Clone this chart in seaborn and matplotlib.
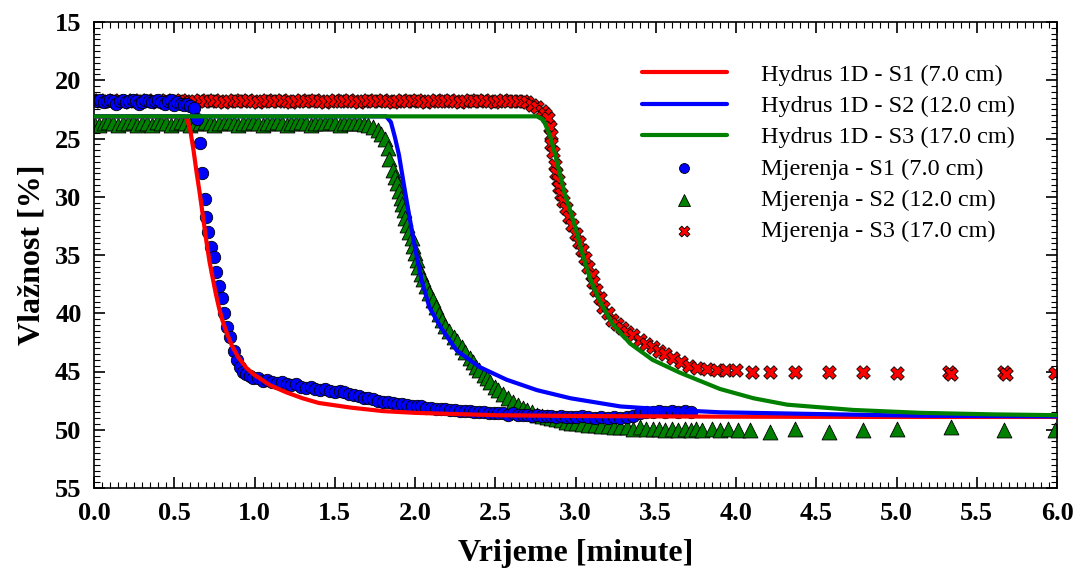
import matplotlib
matplotlib.use("Agg")
import matplotlib.pyplot as plt
from matplotlib.ticker import MultipleLocator, FormatStrFormatter
import seaborn as sns
import pandas as pd

# ---------------- data ----------------
# Hydrus 1D simulated curves
hyd_s1_t = [0.00, 0.56, 0.58, 0.60, 0.62, 0.64, 0.66, 0.68, 0.70, 0.72, 0.74, 0.76, 0.78, 0.80,
            0.83, 0.86, 0.90, 0.95, 1.00, 1.10, 1.20, 1.30, 1.40, 1.60, 1.80, 2.00, 2.50, 3.00,
            4.00, 5.00, 6.00]
hyd_s1_v = [23.1, 23.1, 23.3, 24.3, 26.0, 28.0, 29.8, 31.8, 33.8, 35.6, 37.0, 38.4, 39.6, 40.6,
            41.8, 42.8, 43.8, 44.7, 45.3, 46.2, 46.8, 47.3, 47.7, 48.1, 48.4, 48.55, 48.75, 48.82,
            48.88, 48.9, 48.9]

hyd_s2_t = [0.00, 1.82, 1.85, 1.875, 1.90, 1.93, 1.96, 2.00, 2.04, 2.09, 2.16, 2.26, 2.40, 2.57,
            2.76, 2.97, 3.28, 3.60, 3.90, 4.50, 5.15, 6.00]
hyd_s2_v = [23.1, 23.1, 23.6, 24.9, 26.4, 28.9, 31.3, 34.4, 37.1, 39.5, 41.2, 43.2, 44.6, 45.7,
            46.6, 47.3, 48.0, 48.3, 48.5, 48.65, 48.8, 48.85]

hyd_s3_t = [0.00, 2.76, 2.80, 2.84, 2.87, 2.90, 2.93, 2.97, 3.00, 3.04, 3.09, 3.15, 3.23, 3.34,
            3.48, 3.65, 3.90, 4.11, 4.32, 4.73, 5.15, 5.60, 6.00]
hyd_s3_v = [23.1, 23.1, 23.4, 24.7, 26.2, 27.9, 29.6, 31.3, 32.7, 34.7, 37.0, 38.9, 40.9, 42.6,
            44.0, 45.1, 46.5, 47.3, 47.85, 48.3, 48.55, 48.68, 48.75]

# Measurements S1 (7.0 cm)
mj_s1_t = [0.00, 0.02, 0.04, 0.06, 0.08, 0.10, 0.12, 0.14, 0.16, 0.18, 0.20, 0.22, 0.24, 0.26,
           0.28, 0.30, 0.32, 0.34, 0.36, 0.38, 0.40, 0.42, 0.44, 0.46, 0.48, 0.50, 0.52, 0.54,
           0.56, 0.58, 0.60, 0.62, 0.64, 0.66, 0.675, 0.69, 0.70, 0.71, 0.73, 0.75, 0.76, 0.78,
           0.80, 0.81, 0.83, 0.85, 0.87, 0.89, 0.91, 0.93, 0.95, 0.97, 0.99,
           1.02, 1.05, 1.08, 1.11, 1.14, 1.17, 1.20, 1.23, 1.26, 1.29, 1.32, 1.35, 1.38, 1.41,
           1.44, 1.47, 1.50, 1.53, 1.56, 1.59, 1.62, 1.65, 1.68, 1.71, 1.74, 1.77, 1.80, 1.83,
           1.86, 1.89, 1.92, 1.95, 1.98, 2.01, 2.04, 2.07, 2.10, 2.13, 2.16, 2.19, 2.22, 2.25,
           2.28, 2.31, 2.34, 2.37, 2.40, 2.43, 2.46, 2.49, 2.52, 2.55, 2.58, 2.61, 2.64, 2.67,
           2.70, 2.73, 2.76, 2.79, 2.82, 2.85, 2.88, 2.91, 2.94, 2.97, 3.00, 3.04, 3.08, 3.12,
           3.16, 3.20, 3.24, 3.28, 3.32, 3.36, 3.40, 3.44, 3.48, 3.52, 3.56, 3.60, 3.64, 3.68,
           3.72]
mj_s1_v = [21.7, 21.8, 21.7, 21.9, 21.8, 21.7, 21.8, 22.0, 21.8, 21.7, 21.9, 21.8, 21.7, 21.8,
           22.0, 21.9, 21.7, 21.8, 21.9, 21.8, 21.7, 21.9, 22.0, 21.8, 21.7, 22.1, 21.9, 22.0,
           22.1, 22.0, 22.2, 22.4, 23.3, 25.4, 28.0, 30.2, 31.7, 33.0, 34.3, 35.2, 36.5, 37.7,
           38.7, 40.0, 41.2, 42.0, 43.2, 44.0, 44.6, 45.0, 45.2, 45.4, 45.6,
           45.6, 45.8, 45.7, 45.9, 46.0, 45.9, 46.1, 46.2, 46.1, 46.3, 46.4, 46.3, 46.5, 46.6,
           46.5, 46.7, 46.8, 46.7, 46.8, 46.9, 47.0, 47.1, 47.3, 47.3, 47.4, 47.5, 47.6, 47.6,
           47.7, 47.8, 47.8, 47.9, 48.0, 48.0, 48.0, 48.1, 48.1, 48.2, 48.2, 48.2, 48.3, 48.3,
           48.4, 48.4, 48.4, 48.5, 48.5, 48.5, 48.6, 48.6, 48.6, 48.6, 48.7, 48.6, 48.7, 48.7,
           48.7, 48.8, 48.7, 48.8, 48.8, 48.8, 48.9, 48.8, 48.9, 48.9, 48.9, 48.8, 48.9, 49.0,
           48.9, 49.0, 48.9, 49.0, 48.9, 48.8, 48.6, 48.5, 48.5, 48.4, 48.5, 48.4, 48.5, 48.4,
           48.5]

# Measurements S2 (12.0 cm)
mj_s2_t = [0.00, 0.03, 0.06, 0.09, 0.12, 0.15, 0.18, 0.21, 0.24, 0.27, 0.30, 0.33, 0.36, 0.39,
           0.42, 0.45, 0.48, 0.51, 0.54, 0.57, 0.60, 0.63, 0.66, 0.69, 0.72, 0.75, 0.78, 0.81,
           0.84, 0.87, 0.90, 0.93, 0.96, 0.99, 1.02, 1.05, 1.08, 1.11, 1.14, 1.17, 1.20, 1.23,
           1.26, 1.29, 1.32, 1.35, 1.38, 1.41, 1.44, 1.47, 1.50, 1.53, 1.56, 1.59, 1.62, 1.65,
           1.68, 1.71, 1.74, 1.77, 1.79, 1.81, 1.83, 1.84, 1.86, 1.875, 1.89, 1.90, 1.91, 1.92,
           1.93, 1.94, 1.95, 1.965, 1.98, 1.99, 2.00, 2.01, 2.02, 2.035, 2.05, 2.07, 2.09, 2.11,
           2.13, 2.15, 2.17, 2.19, 2.21, 2.24, 2.26, 2.29, 2.31, 2.34, 2.36, 2.38, 2.40, 2.43,
           2.45, 2.47, 2.50, 2.52, 2.55, 2.58, 2.61, 2.64, 2.67, 2.70, 2.73, 2.76, 2.79, 2.82,
           2.85, 2.88, 2.91, 2.94, 2.97, 3.00, 3.04, 3.08, 3.12, 3.16, 3.20, 3.24, 3.28, 3.32,
           3.36, 3.40, 3.44, 3.48, 3.52, 3.56, 3.60, 3.64, 3.68, 3.72, 3.75, 3.79, 3.85, 3.90,
           3.95, 4.01, 4.09, 4.21, 4.37, 4.58, 4.79, 5.00, 5.34, 5.67, 5.99]
mj_s2_v = [23.7, 23.8, 23.7, 23.6, 23.7, 23.8, 23.7, 23.7, 23.6, 23.8, 23.7, 23.7, 23.8, 23.6,
           23.7, 23.7, 23.8, 23.7, 23.6, 23.7, 23.8, 23.7, 23.7, 23.6, 23.7, 23.8, 23.7, 23.7,
           23.6, 23.7, 23.8, 23.7, 23.7, 23.6, 23.7, 23.8, 23.7, 23.7, 23.6, 23.7, 23.8, 23.7,
           23.7, 23.6, 23.7, 23.8, 23.7, 23.7, 23.7, 23.6, 23.7, 23.8, 23.7, 23.7, 23.7, 23.7,
           23.75, 23.8, 24.0, 24.3, 24.6, 25.0, 25.8, 26.8, 27.7, 28.3, 28.8, 29.5, 30.1, 30.6,
           31.1, 31.8, 32.4, 33.0, 33.5, 34.2, 34.8, 35.4, 36.0, 36.6, 37.1, 37.7, 38.3, 38.9,
           39.5, 40.1, 40.6, 41.1, 41.5, 42.0, 42.4, 42.9, 43.3, 43.8, 44.2, 44.6, 44.9, 45.3,
           45.6, 45.9, 46.3, 46.6, 46.9, 47.3, 47.6, 47.9, 48.1, 48.3, 48.5, 48.7, 48.8, 48.9,
           49.0, 49.1, 49.2, 49.3, 49.4, 49.4, 49.5, 49.6, 49.6, 49.7, 49.7, 49.8, 49.8, 49.8,
           49.9, 49.8, 49.9, 49.9, 49.9, 50.0, 49.9, 50.0, 49.9, 50.0, 49.9, 50.0, 49.95, 50.0,
           49.95, 50.0, 50.0, 50.2, 49.9, 50.2, 50.0, 49.95, 49.75, 50.0, 50.0]

# Measurements S3 (17.0 cm)
mj_s3_t = [0.00, 0.03, 0.06, 0.09, 0.12, 0.15, 0.18, 0.21, 0.24, 0.27, 0.30, 0.33, 0.36, 0.39,
           0.42, 0.45, 0.48, 0.51, 0.54, 0.57, 0.60, 0.63, 0.66, 0.69, 0.72, 0.75, 0.78, 0.81,
           0.84, 0.87, 0.90, 0.93, 0.96, 0.99, 1.02, 1.05, 1.08, 1.11, 1.14, 1.17, 1.20, 1.23,
           1.26, 1.29, 1.32, 1.35, 1.38, 1.41, 1.44, 1.47, 1.50, 1.53, 1.56, 1.59, 1.62, 1.65,
           1.68, 1.71, 1.74, 1.77, 1.80, 1.83, 1.86, 1.89, 1.92, 1.95, 1.98, 2.01, 2.04, 2.07,
           2.10, 2.13, 2.16, 2.19, 2.22, 2.25, 2.28, 2.31, 2.34, 2.37, 2.40, 2.43, 2.46, 2.49,
           2.52, 2.55, 2.58, 2.61, 2.64, 2.67, 2.70, 2.73, 2.76, 2.79, 2.81, 2.83, 2.84, 2.845,
           2.85, 2.86, 2.87, 2.88, 2.89, 2.90, 2.91, 2.925, 2.94, 2.96, 2.98, 3.00, 3.02, 3.04,
           3.06, 3.08, 3.10, 3.11, 3.13, 3.15, 3.17, 3.20, 3.23, 3.26, 3.29, 3.32, 3.36, 3.40,
           3.44, 3.48, 3.52, 3.56, 3.61, 3.66, 3.71, 3.76, 3.82, 3.88, 3.94, 4.00, 4.10, 4.21,
           4.37, 4.58, 4.79, 5.00, 5.33, 5.34, 5.67, 5.68, 5.99]
mj_s3_v = [21.8, 21.7, 21.8, 21.8, 21.7, 21.8, 21.9, 21.8, 21.7, 21.8, 21.8, 21.7, 21.8, 21.9,
           21.8, 21.7, 21.8, 21.8, 21.7, 21.8, 21.9, 21.8, 21.7, 21.8, 21.8, 21.7, 21.8, 21.9,
           21.8, 21.7, 21.8, 21.8, 21.7, 21.8, 21.9, 21.8, 21.7, 21.8, 21.8, 21.7, 21.8, 21.9,
           21.8, 21.7, 21.8, 21.8, 21.7, 21.8, 21.9, 21.8, 21.7, 21.8, 21.8, 21.7, 21.8, 21.9,
           21.8, 21.7, 21.8, 21.8, 21.7, 21.8, 21.9, 21.8, 21.7, 21.8, 21.8, 21.7, 21.8, 21.9,
           21.8, 21.7, 21.8, 21.8, 21.7, 21.8, 21.9, 21.8, 21.7, 21.8, 21.8, 21.7, 21.8, 21.9,
           21.8, 21.7, 21.8, 21.8, 21.8, 21.8, 21.9, 22.1, 22.3, 22.6, 22.9, 23.2, 24.0, 24.7,
           25.5, 26.2, 27.3, 28.0, 28.6, 29.2, 29.8, 30.4, 31.0, 31.7, 32.4, 33.2, 33.9, 34.6,
           35.3, 36.0, 36.7, 37.3, 38.0, 38.7, 39.5, 40.0, 40.6, 40.9, 41.3, 41.6, 41.9, 42.3,
           42.6, 42.9, 43.2, 43.5, 43.8, 44.2, 44.5, 44.7, 44.8, 44.9, 44.9, 44.9, 45.0, 45.0,
           45.0, 45.0, 45.0, 45.1, 45.05, 45.2, 45.0, 45.2, 45.1]

labels = ["Hydrus 1D - S1 (7.0 cm)", "Hydrus 1D - S2 (12.0 cm)", "Hydrus 1D - S3 (17.0 cm)",
          "Mjerenja - S1 (7.0 cm)", "Mjerenja - S2 (12.0 cm)", "Mjerenja - S3 (17.0 cm)"]
x_ticks = [0.0, 0.5, 1.0, 1.5, 2.0, 2.5, 3.0, 3.5, 4.0, 4.5, 5.0, 5.5, 6.0]
y_ticks = [15, 20, 25, 30, 35, 40, 45, 50, 55]

# ---------------- style ----------------
sns.set_style("ticks")
plt.rcParams["font.family"] = ["Liberation Serif", "DejaVu Serif"]
plt.rcParams["text.color"] = "black"
plt.rcParams["axes.labelcolor"] = "black"
plt.rcParams["xtick.color"] = "black"
plt.rcParams["ytick.color"] = "black"
plt.rcParams["xtick.direction"] = "in"
plt.rcParams["ytick.direction"] = "in"

fig = plt.figure(figsize=(10.77, 5.69), dpi=100)
ax = fig.add_axes([94 / 1077, 81 / 569, 963 / 1077, 466 / 569])

RED, BLUE, GREEN = "#ff0000", "#0000ff", "#008000"

# measurements (drawn below the lines)
sns.scatterplot(x=mj_s3_t, y=mj_s3_v, marker="X", s=95, color=RED, edgecolor="black",
                linewidth=0.6, ax=ax, label=labels[5], zorder=2)
sns.scatterplot(x=mj_s2_t, y=mj_s2_v, marker="^", s=115, color=GREEN, edgecolor="black",
                linewidth=0.6, ax=ax, label=labels[4], zorder=2)
sns.scatterplot(x=mj_s1_t, y=mj_s1_v, marker="o", s=80, color=BLUE, edgecolor="black",
                linewidth=0.6, ax=ax, label=labels[3], zorder=2)

# Hydrus lines
sns.lineplot(x=hyd_s1_t, y=hyd_s1_v, color=RED, linewidth=3, ax=ax, label=labels[0],
             sort=False, estimator=None, zorder=3)
sns.lineplot(x=hyd_s2_t, y=hyd_s2_v, color=BLUE, linewidth=3, ax=ax, label=labels[1],
             sort=False, estimator=None, zorder=3)
sns.lineplot(x=hyd_s3_t, y=hyd_s3_v, color=GREEN, linewidth=3, ax=ax, label=labels[2],
             sort=False, estimator=None, zorder=3)

ax.set_xlim(0, 6)
ax.set_ylim(55, 15)
ax.set_xticks(x_ticks)
ax.set_yticks(y_ticks)
ax.xaxis.set_major_formatter(FormatStrFormatter("%.1f"))
ax.xaxis.set_minor_locator(MultipleLocator(0.05))
ax.yaxis.set_minor_locator(MultipleLocator(0.5))
ax.tick_params(which="both", top=True, right=True, direction="in", color="black")
ax.tick_params(which="major", length=8, width=1.2, labelsize=19, labelcolor="black")
ax.tick_params(axis="x", which="major", pad=10)
ax.tick_params(axis="y", which="major", pad=9)
ax.tick_params(which="minor", length=4, width=0.8)
for lab in ax.get_xticklabels() + ax.get_yticklabels():
    lab.set_fontweight("bold")
for sp in ax.spines.values():
    sp.set_linewidth(1.2)
    sp.set_color("black")

ax.set_xlabel("Vrijeme [minute]", fontsize=23, fontweight="bold", labelpad=10)
ax.set_ylabel("Vlažnost [%]", fontsize=23, fontweight="bold", labelpad=6)

handles, labs = ax.get_legend_handles_labels()
order = [labs.index(l) for l in labels]
ax.legend([handles[i] for i in order], [labs[i] for i in order],
          loc="upper left", bbox_to_anchor=(0.569, 0.91), frameon=False, fontsize=17.5,
          handlelength=3.5, handletextpad=1.4, labelspacing=0.38, borderaxespad=0,
          borderpad=0, markerscale=0.8)

fig.savefig("out.png", dpi=100)
